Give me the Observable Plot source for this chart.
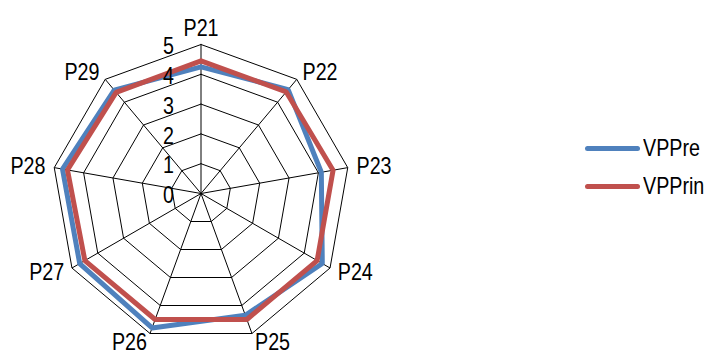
<!DOCTYPE html>
<html><head><meta charset="utf-8">
<script src="https://cdn.jsdelivr.net/npm/d3@7"></script>
<script src="https://cdn.jsdelivr.net/npm/@observablehq/plot@0.6"></script>
<style>
body{margin:0;background:#fff;}
#wrap{position:relative;width:712px;height:352px;font-family:"Liberation Sans","Arial",sans-serif;}
.leg{position:absolute;left:585px;width:127px;height:30px;display:flex;align-items:center;font-size:24px;color:#000;white-space:nowrap;}
.leg .sw{display:inline-block;flex:none;width:55px;height:5px;border-radius:3px;margin-right:3px;}
.leg .tx{display:inline-block;transform:scaleX(0.82);transform-origin:left center;}
</style></head><body><div id="wrap"></div>
<script>
const categories = ["P21","P22","P23","P24","P25","P26","P27","P28","P29"];
const vppre  = [4.25, 4.55, 4.1, 4.7, 4.35, 4.8, 4.7, 4.72, 4.53];
const vpprin = [4.45, 4.45, 4.5, 4.5, 4.5, 4.5, 4.5, 4.55, 4.43];
const ringTicks = [0, 1, 2, 3, 4, 5];
const seriesNames = ["VPPre", "VPPrin"];
const seriesColors = ["#4F81BD", "#C0504D"];

const n = categories.length;
const ang = i => 2 * Math.PI * i / n;
const px = (i, r) => r * Math.sin(ang(i));
const py = (i, r) => r * Math.cos(ang(i));
const R = ringTicks[ringTicks.length - 1], LR = R * 1.06;

const rows = [];
[vppre, vpprin].forEach((vals, k) => {
  for (let j = 0; j <= n; j++) { const i = j % n; rows.push({series: seriesNames[k], i, value: vals[i]}); }
});
const ringRows = [];
ringTicks.filter(t => t > 0).forEach(t => { for (let j = 0; j <= n; j++) ringRows.push({ring: t, i: j % n}); });
const spokes = categories.map((c, i) => ({c, i}));
const side = i => { const s = Math.sin(ang(i)); return Math.abs(s) < 1e-6 ? "c" : (s > 0 ? "r" : "l"); };

const k = 29.8, cx = 200.5, cy = 193, W = 712, H = 352;
const chart = Plot.plot({
  width: W, height: H, margin: 0,
  x: {axis: null, domain: [-cx / k, (W - cx) / k]},
  y: {axis: null, domain: [-(H - cy) / k, cy / k]},
  color: {domain: seriesNames, range: seriesColors},
  style: {fontFamily: '"Liberation Sans","Arial",sans-serif', background: "white"},
  marks: [
    Plot.line(ringRows, {x: d => px(d.i, d.ring), y: d => py(d.i, d.ring), z: "ring", stroke: "black", strokeWidth: 1}),
    Plot.link(spokes, {x1: d => 0, y1: d => 0, x2: d => px(d.i, R), y2: d => py(d.i, R), stroke: "black", strokeWidth: 1}),
    Plot.line(rows, {x: d => px(d.i, d.value), y: d => py(d.i, d.value), z: "series", stroke: "series", strokeWidth: 5, strokeLinejoin: "miter"}),
    Plot.text(ringTicks, {x: d => 0, y: d => d, text: d => String(d), textAnchor: "end", dx: -27, dy: 2, fontSize: 24, fill: "black"}),
    Plot.text(spokes.filter(d => side(d.i) === "c"), {x: d => px(d.i, LR), y: d => py(d.i, LR), text: "c", textAnchor: "middle", lineAnchor: "bottom", fontSize: 24, fill: "black"}),
    Plot.text(spokes.filter(d => side(d.i) === "r"), {x: d => px(d.i, LR), y: d => py(d.i, LR), text: "c", textAnchor: "start", lineAnchor: "middle", fontSize: 24, fill: "black"}),
    Plot.text(spokes.filter(d => side(d.i) === "l"), {x: d => px(d.i, LR), y: d => py(d.i, LR), text: "c", textAnchor: "end", lineAnchor: "middle", fontSize: 24, fill: "black"})
  ]
});
const wrap = document.getElementById("wrap");
wrap.appendChild(chart);
// condense text to mimic a narrow face
chart.querySelectorAll("text").forEach(t => {
  const len = t.getComputedTextLength();
  if (len > 0) {
    t.setAttribute("textLength", (len * 0.82).toFixed(2));
    t.setAttribute("lengthAdjust", "spacingAndGlyphs");
  }
});
const legTops = [133, 171];
seriesNames.forEach((s, i) => {
  const d = document.createElement("div");
  d.className = "leg";
  d.style.top = legTops[i] + "px";
  const sw = document.createElement("span");
  sw.className = "sw";
  sw.style.background = seriesColors[i];
  d.appendChild(sw);
  const tx = document.createElement("span");
  tx.className = "tx";
  tx.textContent = s;
  d.appendChild(tx);
  wrap.appendChild(d);
});
</script></body></html>
